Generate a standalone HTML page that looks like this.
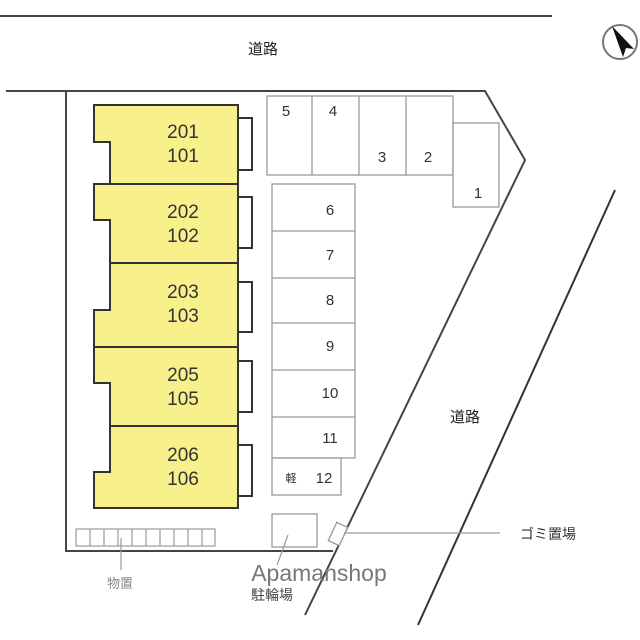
<!DOCTYPE html>
<html><head><meta charset="utf-8"><style>
html,body{margin:0;padding:0;background:#fff;width:640px;height:640px;overflow:hidden}
svg{display:block}
text{font-family:"Liberation Sans","Noto Sans CJK JP",sans-serif}
</style></head><body>
<svg width="640" height="640" viewBox="0 0 640 640" xmlns="http://www.w3.org/2000/svg">
<line x1="0" y1="16" x2="552" y2="16" stroke="#444" stroke-width="2"/>
<text x="263" y="54" font-size="15" text-anchor="middle" fill="#222">道路</text>
<circle cx="620" cy="42" r="17" fill="none" stroke="#777" stroke-width="2"/>
<polygon points="612,26 634,49 626,48 623,57" fill="#111"/>
<!-- lot boundary -->
<polyline points="6,91 485,91 525,160 305,615" fill="none" stroke="#444" stroke-width="2"/>
<polyline points="66,91 66,551 333,551" fill="none" stroke="#444" stroke-width="2"/>
<line x1="615" y1="190" x2="418" y2="625" stroke="#333" stroke-width="2"/>
<text x="465" y="422" font-size="15" text-anchor="middle" fill="#222">道路</text>
<!-- units -->
<g fill="#f8f08a" stroke="#333" stroke-width="2">
<polygon points="94,105 238,105 238,184 110,184 110,142 94,142"/>
<polygon points="94,184 238,184 238,263 110,263 110,220 94,220"/>
<polygon points="110,263 238,263 238,347 94,347 94,310 110,310"/>
<polygon points="94,347 238,347 238,426 110,426 110,383 94,383"/>
<polygon points="110,426 238,426 238,508 94,508 94,472 110,472"/>
</g>
<g fill="none" stroke="#333" stroke-width="2">
<polyline points="238,118 252,118 252,170 238,170"/>
<polyline points="238,197 252,197 252,248 238,248"/>
<polyline points="238,282 252,282 252,332 238,332"/>
<polyline points="238,361 252,361 252,412 238,412"/>
<polyline points="238,445 252,445 252,496 238,496"/>
</g>
<g font-size="19" text-anchor="middle" fill="#333">
<text x="183" y="138">201</text><text x="183" y="162">101</text>
<text x="183" y="218">202</text><text x="183" y="242">102</text>
<text x="183" y="298">203</text><text x="183" y="322">103</text>
<text x="183" y="381">205</text><text x="183" y="405">105</text>
<text x="183" y="461">206</text><text x="183" y="485">106</text>
</g>
<!-- parking -->
<g fill="#fff" stroke="#999" stroke-width="1.3">
<rect x="267" y="96" width="186" height="79"/>
<line x1="312" y1="96" x2="312" y2="175"/><line x1="359" y1="96" x2="359" y2="175"/><line x1="406" y1="96" x2="406" y2="175"/>
<rect x="453" y="123" width="46" height="84"/>
<rect x="272" y="184" width="83" height="274"/>
<line x1="272" y1="231" x2="355" y2="231"/><line x1="272" y1="278" x2="355" y2="278"/><line x1="272" y1="323" x2="355" y2="323"/><line x1="272" y1="370" x2="355" y2="370"/><line x1="272" y1="417" x2="355" y2="417"/>
<rect x="272" y="458" width="69" height="37"/>
<rect x="272" y="514" width="45" height="33"/>
<rect x="332" y="524" width="12" height="20" transform="rotate(25 338 534)"/>
</g>
<g font-size="15" text-anchor="middle" fill="#333">
<text x="286" y="116">5</text><text x="333" y="116">4</text><text x="382" y="162">3</text><text x="428" y="162">2</text><text x="478" y="198">1</text>
<text x="330" y="215">6</text><text x="330" y="260">7</text><text x="330" y="305">8</text><text x="330" y="351">9</text><text x="330" y="398">10</text><text x="330" y="443">11</text><text x="324" y="483">12</text>
<text x="291" y="482" font-size="11">軽</text>
</g>
<!-- storage -->
<g fill="none" stroke="#999" stroke-width="1.2">
<rect x="76" y="529" width="139" height="17"/>
<line x1="90" y1="529" x2="90" y2="546"/><line x1="104" y1="529" x2="104" y2="546"/><line x1="118" y1="529" x2="118" y2="546"/><line x1="132" y1="529" x2="132" y2="546"/><line x1="146" y1="529" x2="146" y2="546"/><line x1="160" y1="529" x2="160" y2="546"/><line x1="174" y1="529" x2="174" y2="546"/><line x1="188" y1="529" x2="188" y2="546"/><line x1="202" y1="529" x2="202" y2="546"/>
<line x1="121" y1="538" x2="121" y2="570"/>
<line x1="288" y1="535" x2="277" y2="565"/>
<line x1="344" y1="533" x2="500" y2="533"/>
</g>
<text x="120" y="588" font-size="13" text-anchor="middle" fill="#888">物置</text>
<text x="548" y="539" font-size="14" text-anchor="middle" fill="#333">ゴミ置場</text>
<text x="319" y="581" font-size="23" text-anchor="middle" fill="#777">Apamanshop</text>
<text x="272" y="600" font-size="14" text-anchor="middle" fill="#444">駐輪場</text>
</svg>
</body></html>
